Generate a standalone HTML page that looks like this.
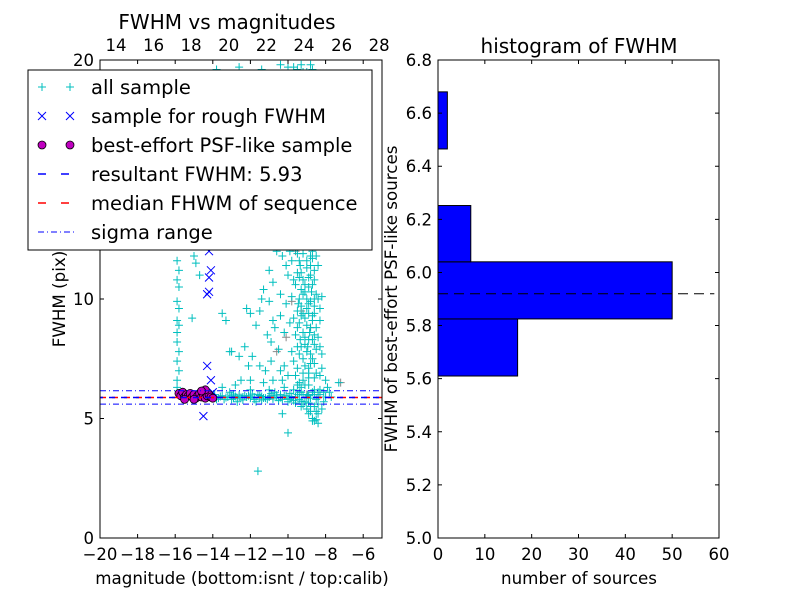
<!DOCTYPE html>
<html><head><meta charset="utf-8"><style>
html,body{margin:0;padding:0;background:#fff;width:800px;height:600px;overflow:hidden}
svg text{font-family:"DejaVu Sans","Liberation Sans",sans-serif;fill:#000}
</style></head><body>
<svg id="fig" width="800" height="600" xmlns="http://www.w3.org/2000/svg">
<rect width="800" height="600" fill="#fff"/>
<g id="left"></g>
<g id="right"></g>
</svg>
<script>
// ---------- data: left scatter ----------
const allSample = "-15.9,6.3 -15.9,6.6 -15.8,7.0 -15.9,7.4 -15.8,7.8 -15.9,8.2 -15.9,8.6 -15.8,8.9 -15.9,9.1 -15.8,9.6 -15.9,9.9 -15.8,10.5 -15.9,10.8 -15.8,11.2 -15.9,11.6 -15.8,12.4 -15.9,13.0 -15.8,13.5 -15.6,12.8 -15.2,12.3 -15.0,11.8 -14.9,11.5 -15.1,9.2 -14.7,11.0 -14.6,12.9 -13.5,9.4 -13.3,9.1 -13.0,7.8 -12.2,9.6 -12.0,9.4 -11.5,9.5 -11.0,11.2 -10.8,10.7 -11.3,10.4 -12.5,6.6 -12.0,6.6 -11.3,6.5 -10.8,6.6 -7.3,6.5 -7.8,6.1 -11.6,2.8 -10.0,4.4 -10.3,5.2 -8.4,4.8 -12.6,19.7 -11.4,19.6 -10.4,19.8 -9.7,19.7 -9.2,19.5 -8.8,19.8 -9.5,19.6 -13.8,19.6 -11.8,12.2 -11.1,8.5 -10.9,8.2 -10.5,7.9 -10.2,7.2 -10.7,8.8 -10.1,9.8 -10.4,10.2 -10.0,11.0 -10.2,12.5 -9.9,13.2 -9.6,6.8 -9.7,7.4 -9.5,8.0 -9.6,8.5 -9.4,9.0 -9.5,9.5 -9.4,10.0 -9.6,10.6 -9.5,11.1 -9.4,11.6 -9.6,12.1 -9.5,12.6 -9.4,13.0 -9.3,6.3 -9.2,6.9 -9.2,7.5 -9.1,8.1 -9.2,8.6 -9.1,9.2 -9.3,9.7 -9.1,10.3 -9.2,10.8 -9.0,11.3 -9.2,11.9 -9.1,12.4 -9.0,13.0 -8.9,6.4 -8.9,7.1 -8.8,7.7 -8.9,8.3 -8.8,8.8 -8.9,9.4 -8.8,9.9 -8.9,10.5 -8.8,11.0 -8.7,11.7 -8.9,12.3 -8.8,12.8 -8.6,6.7 -8.6,7.3 -8.5,7.9 -8.6,8.5 -8.7,9.1 -8.6,9.7 -8.5,10.2 -8.6,10.8 -9.0,5.4 -8.9,5.2 -8.7,5.0 -8.6,4.9 -8.5,5.3 -9.3,5.5 -8.3,6.2 -8.2,7.1 -8.3,8.0 -8.0,6.6 -8.4,5.6 -8.1,5.7 -7.9,6.3 -14.0,5.9 -13.7,5.85 -13.5,5.95 -13.2,5.9 -13.0,5.8 -12.8,5.92 -12.5,5.88 -12.3,5.95 -12.0,5.85 -11.8,5.9 -11.5,5.96 -11.3,5.86 -11.0,5.9 -10.8,5.82 -10.6,5.98 -10.4,5.88 -10.2,5.94 -10.0,5.85 -9.8,5.92 -9.6,5.9 -9.4,5.8 -9.2,6.0 -9.0,5.9 -8.8,5.85 -8.6,6.0 -8.4,5.9 -13.9,6.0 -13.4,5.8 -12.9,6.02 -12.4,5.78 -11.9,6.02 -11.4,5.78 -10.9,6.04 -10.5,5.75 -9.9,6.05 -9.3,5.72 -8.7,6.1 -8.9,5.65 -11.7,5.7 -10.7,6.1 -13.1,6.1 -12.7,5.7 -14.8,13.5 -12.9,13.2 -11.0,13.6 -10.5,13.4 -13.1,7.8 -12.1,7.2 -11.2,7.0 -9.8,7.8 -10.3,6.6 -9.7,6.2 -8.3,9.1 -8.2,10.1 -8.4,11.4 -10.2,8.6 -9.9,9.0";
const allSampleDense = "-9.3,6.1 -9.2,6.6 -9.1,7.2 -9.0,7.8 -9.1,8.4 -9.0,8.9 -9.2,9.4 -9.0,10.0 -9.1,10.6 -9.3,11.1 -9.0,11.6 -9.2,12.2 -9.1,12.8 -8.95,6.0 -8.9,6.7 -8.8,7.3 -8.95,8.0 -8.85,8.6 -8.7,9.3 -8.9,9.8 -8.75,10.3 -8.9,10.9 -8.8,11.4 -8.7,12.0 -8.8,12.6 -8.6,6.2 -8.5,6.9 -8.7,7.5 -8.6,8.1 -8.5,8.8 -8.6,9.4 -8.4,10.0 -8.7,10.6 -8.6,11.2 -8.5,11.8 -9.4,6.5 -9.5,7.1 -9.4,7.7 -9.35,8.3 -9.5,8.8 -9.3,9.3 -9.45,9.8 -9.3,10.4 -9.4,10.9 -9.35,11.4 -9.5,11.9 -9.3,12.4 -9.7,9.2 -9.8,10.1 -9.7,10.8 -9.8,11.6 -9.7,12.4 -9.9,12.0 -9.6,13.2 -9.2,13.3 -8.9,13.4 -8.3,6.8 -8.2,7.7 -8.4,8.4 -8.3,9.6 -8.2,5.4 -8.4,5.2 -8.6,5.5 -8.8,5.3 -8.0,5.9 -7.7,5.9 -8.1,6.1 -8.5,5.8 -8.3,6.0 -9.1,5.7 -9.5,6.0 -9.7,5.75 -10.1,5.95 -10.3,5.8 -10.6,5.9 -10.9,5.95 -11.2,5.85 -11.5,5.88 -11.8,5.8 -12.1,5.95 -12.4,5.9 -12.7,5.85 -13.0,5.95 -13.3,5.88 -13.6,5.92 -13.8,5.8 -12.2,5.9 -11.6,6.0 -11.1,5.8 -10.4,6.0 -9.9,5.8 -9.4,6.1 -8.9,5.95 -8.4,6.1 -12.9,5.85 -12.6,5.98 -11.4,5.92 -10.8,5.88 -10.0,5.7 -9.6,5.65 -9.2,5.6 -8.8,5.5 -8.7,4.9 -8.5,4.95 -9.1,6.4 -8.9,6.9 -9.3,8.0 -8.7,8.3 -9.0,9.6 -8.6,10.0 -9.2,10.2 -8.8,11.8 -9.0,12.4 -8.6,12.2 -10.0,12.3 -10.1,11.4 -10.3,11.8 -10.6,12.0 -10.4,9.3 -10.8,9.1 -11.0,9.9 -11.4,10.0 -11.7,8.9 -12.3,8.0 -12.6,7.6 -11.9,7.6 -11.5,7.2 -10.9,7.4 -10.4,7.0 -10.0,6.8 -9.5,6.4 -12.0,6.2 -11.0,6.2 -10.2,6.3 -13.5,6.3 -12.8,6.4 -9.0,19.5 -9.6,19.4 -10.0,19.7 -8.7,19.6 -9.3,19.8";
const roughSample = "-14.2,12.0 -14.1,11.2 -14.2,10.9 -14.3,10.2 -14.2,10.3 -14.3,7.2 -14.1,6.6 -14.5,5.1 -15.2,6.0 -14.6,5.9 -14.0,6.1";
const psfSample = "-15.8,6.05 -15.7,5.95 -15.6,6.1 -15.5,5.9 -15.4,6.0 -15.3,5.95 -15.2,6.05 -15.1,5.9 -15.0,6.0 -14.9,5.85 -14.8,5.95 -14.7,6.05 -14.6,5.9 -14.5,6.0 -14.4,5.85 -14.3,5.95 -14.2,6.0 -14.1,5.9 -14.4,6.2 -14.0,5.85 -15.5,5.8 -15.0,5.8 -14.6,6.15";
const graySample = "-9.8,9.9 -10.1,8.4 -9.3,9.5 -12.6,5.9 -11.0,5.9 -9.0,6.0 -8.8,8.8 -7.2,6.5 -10.6,7.8 -9.6,12.0";
const resultantFWHM = 5.88;
const medianFWHM = 5.88;
const sigmaRange = [5.6, 6.16];
const xTicks = [-20,-18,-16,-14,-12,-10,-8,-6];
const yTicks = [0,5,10];
const topTicks = [14,16,18,20,22,24,26,28];
// ---------- data: histogram ----------
const binEdges = [5.61,5.825,6.04,6.252,6.465,6.68];
const binCounts = [17,50,7,0,2];
const histLine = 5.92;
const hxTicks = [0,10,20,30,40,50,60];
const hyTicks = [5.0,5.2,5.4,5.6,5.8,6.0,6.2,6.4,6.6,6.8];

const NS="http://www.w3.org/2000/svg";
function mk(parent,tag,attrs,text){const e=document.createElementNS(NS,tag);for(const k in attrs)e.setAttribute(k,attrs[k]);if(text!==undefined)e.textContent=text;parent.appendChild(e);return e;}
function parse(s){return s.trim().split(/\s+/).map(p=>p.split(',').map(Number));}
function fmt(v){return v<0?'\u2212'+Math.abs(v):String(v);}
const TF=16.5;

// ---------- left axes ----------
const L=document.getElementById('left');
const LX0=100,LX1=382,LY0=538,LY1=60;
const xs=v=>LX0+(v+20)/15*(LX1-LX0);
const ys=v=>LY0-v/20*(LY0-LY1);
const calibOffset=33.15;
mk(L,'defs',{}).innerHTML='<clipPath id="lc"><rect x="100" y="60" width="282" height="478"/></clipPath>';
const pts=mk(L,'g',{'clip-path':'url(#lc)'});


function plus(g,x,y,c){mk(g,'path',{d:`M${x-4},${y}H${x+4}M${x},${y-4}V${y+4}`,stroke:c,'stroke-width':1});}
parse(graySample).forEach(([m,f])=>{plus(pts,xs(m),ys(f),'#888');});
parse(allSample).concat(parse(allSampleDense)).forEach(([m,f])=>{plus(pts,xs(m),ys(f),'#00bfbf');});
parse(roughSample).forEach(([m,f])=>{const x=xs(m),y=ys(f);mk(pts,'path',{d:`M${x-4},${y-4}L${x+4},${y+4}M${x-4},${y+4}L${x+4},${y-4}`,stroke:'#0000ff','stroke-width':1});});
parse(psfSample).forEach(([m,f])=>{mk(pts,'circle',{cx:xs(m),cy:ys(f),r:4,fill:'#bf00bf',stroke:'#000','stroke-width':0.8});});
const ln1=mk(pts,'line',{x1:LX0,x2:LX1,y1:ys(medianFWHM),y2:ys(medianFWHM),stroke:'#ff0000','stroke-width':1.5,'stroke-dasharray':'6,6'});

const ln2=mk(pts,'line',{x1:LX0,x2:LX1,y1:ys(resultantFWHM),y2:ys(resultantFWHM),stroke:'#0000ff','stroke-width':1.5,'stroke-dasharray':'6,6','stroke-dashoffset':3});

sigmaRange.forEach(v=>{const l=mk(pts,'line',{x1:LX0,x2:LX1,y1:ys(v),y2:ys(v),stroke:'#0000ff','stroke-width':1,'stroke-dasharray':'6,3,1,3'});
});
mk(L,'rect',{x:LX0,y:LY1,width:LX1-LX0,height:LY0-LY1,fill:'none',stroke:'#000','stroke-width':1});
xTicks.forEach(v=>{const x=xs(v);mk(L,'path',{d:`M${x},${LY0}v-4M${x},${LY1}v4`,stroke:'#000'});
const t=mk(L,'text',{x:x,y:LY0+22,'text-anchor':'middle','font-size':TF},fmt(v));});
topTicks.forEach(v=>{const x=xs(v-calibOffset);const t=mk(L,'text',{x:x,y:LY1-9,'text-anchor':'middle','font-size':TF},String(v));});
yTicks.concat([20]).forEach(v=>{const y=ys(v);mk(L,'path',{d:`M${LX0},${y}h4M${LX1},${y}h-4`,stroke:'#000'});
const t=mk(L,'text',{x:LX0-6,y:y+6,'text-anchor':'end','font-size':TF},String(v));});
let e=mk(L,'text',{x:242,y:584,'text-anchor':'middle','font-size':16.7},'magnitude (bottom:isnt / top:calib)');

e=mk(L,'text',{x:0,y:0,'text-anchor':'middle','font-size':16.7,transform:'translate(65,299) rotate(-90)'},'FWHM (pix)');

e=mk(L,'text',{x:227,y:29,'text-anchor':'middle','font-size':20},'FWHM vs magnitudes');

// legend
const lg=mk(L,'g',{});

mk(lg,'rect',{x:28,y:70,width:344,height:180,fill:'#fff',stroke:'#000','stroke-width':1});
const labels=['all sample','sample for rough FWHM','best-effort PSF-like sample','resultant FWHM: 5.93','median FHWM of sequence','sigma range'];
labels.forEach((lab,i)=>{const y=87+i*29;const g=mk(lg,'g',{});

if(i===0){plus(g,42,y,'#00bfbf');plus(g,70,y,'#00bfbf');}
if(i===1){[42,70].forEach(x=>mk(g,'path',{d:`M${x-4},${y-4}L${x+4},${y+4}M${x-4},${y+4}L${x+4},${y-4}`,stroke:'#0000ff'}));}
if(i===2){[42,70].forEach(x=>mk(g,'circle',{cx:x,cy:y,r:4,fill:'#bf00bf',stroke:'#000','stroke-width':0.8}));}
if(i===3)mk(g,'line',{x1:38,x2:76,y1:y,y2:y,stroke:'#0000ff','stroke-width':1.5,'stroke-dasharray':'8,15'});
if(i===4)mk(g,'line',{x1:38,x2:76,y1:y,y2:y,stroke:'#ff0000','stroke-width':1.5,'stroke-dasharray':'8,15'});
if(i===5)mk(g,'line',{x1:38,x2:76,y1:y,y2:y,stroke:'#0000ff','stroke-width':1,'stroke-dasharray':'6,3,1,3'});
mk(g,'text',{x:91,y:y+7,'font-size':19.5},lab);});

// ---------- right axes (histogram) ----------
const R=document.getElementById('right');
const RX0=438,RX1=719,RY0=538,RY1=60;
const hx=v=>RX0+v/60*(RX1-RX0);
const hy=v=>RY0-(v-5.0)/1.8*(RY0-RY1);
binCounts.forEach((c,i)=>{if(c<=0)return;const y1=hy(binEdges[i+1]),y0=hy(binEdges[i]);
const b=mk(R,'rect',{x:RX0,y:y1,width:hx(c)-RX0,height:y0-y1,fill:'#0000ff',stroke:'#000','stroke-width':1});
});
e=mk(R,'line',{x1:RX0,x2:hx(59),y1:hy(histLine),y2:hy(histLine),stroke:'#000','stroke-width':1,'stroke-dasharray':'10,6'});

mk(R,'rect',{x:RX0,y:RY1,width:RX1-RX0,height:RY0-RY1,fill:'none',stroke:'#000','stroke-width':1});
hxTicks.forEach(v=>{const x=hx(v);mk(R,'path',{d:`M${x},${RY0}v-4M${x},${RY1}v4`,stroke:'#000'});
const t=mk(R,'text',{x:x,y:RY0+22,'text-anchor':'middle','font-size':TF},String(v));});
hyTicks.forEach(v=>{const y=hy(v);mk(R,'path',{d:`M${RX0},${y}h4M${RX1},${y}h-4`,stroke:'#000'});
const t=mk(R,'text',{x:RX0-6,y:y+6,'text-anchor':'end','font-size':TF},v.toFixed(1));});
e=mk(R,'text',{x:579,y:584,'text-anchor':'middle','font-size':16.7},'number of sources');

e=mk(R,'text',{x:0,y:0,'text-anchor':'middle','font-size':16.7,transform:'translate(397,299) rotate(-90)'},'FWHM of best-effort PSF-like sources');

e=mk(R,'text',{x:579,y:53,'text-anchor':'middle','font-size':20},'histogram of FWHM');

</script>
</body></html>
